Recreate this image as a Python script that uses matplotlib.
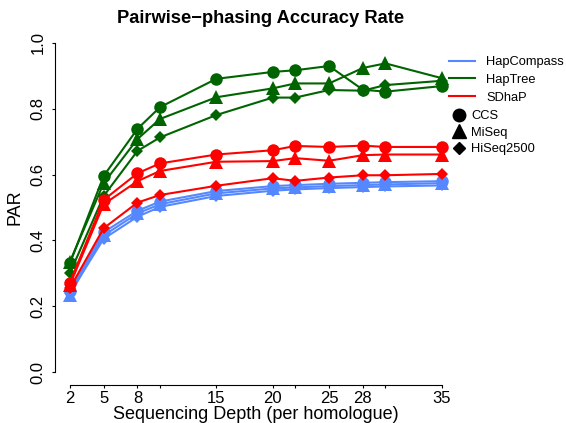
""" pairwise-phasing accuracy rate vs sequencing depth """

import matplotlib
matplotlib.use('Agg')
import matplotlib.pyplot as plt
from matplotlib.lines import Line2D

plt.rcParams['font.family'] = ['Liberation Sans', 'DejaVu Sans']

""" 1. data """
depth = [2, 5, 8, 10, 15, 20, 22, 25, 28, 30, 35]
tick_labels = [2, 5, 8, 15, 20, 25, 28, 35]

# HapCompass
hc_ccs = [0.245, 0.425, 0.490, 0.518, 0.550, 0.565, 0.568, 0.572, 0.575, 0.577, 0.580]
hc_miseq = [0.235, 0.415, 0.482, 0.510, 0.543, 0.558, 0.561, 0.565, 0.568, 0.570, 0.574]
hc_hiseq = [0.240, 0.405, 0.472, 0.502, 0.535, 0.551, 0.555, 0.559, 0.562, 0.564, 0.567]
# HapTree
ht_ccs = [0.330, 0.596, 0.739, 0.805, 0.891, 0.912, 0.917, 0.930, 0.858, 0.852, 0.869]
ht_miseq = [0.335, 0.574, 0.708, 0.769, 0.835, 0.862, 0.877, 0.877, 0.924, 0.938, 0.893]
ht_hiseq = [0.300, 0.535, 0.672, 0.713, 0.781, 0.834, 0.834, 0.857, 0.855, 0.872, 0.885]
# SDhaP
sd_ccs = [0.272, 0.523, 0.604, 0.634, 0.661, 0.674, 0.687, 0.684, 0.688, 0.684, 0.684]
sd_miseq = [0.265, 0.510, 0.580, 0.611, 0.639, 0.641, 0.650, 0.642, 0.659, 0.661, 0.661]
sd_hiseq = [0.255, 0.437, 0.515, 0.538, 0.566, 0.589, 0.581, 0.591, 0.598, 0.598, 0.602]

methods = ['HapCompass', 'HapTree', 'SDhaP']
colors = ['#5588FF', '#006400', '#FF0000']
platforms = ['CCS', 'MiSeq', 'HiSeq2500']
markers = ['o', '^', 'D']
msizes = [9, 9.5, 6.2]

series = [[hc_ccs, hc_miseq, hc_hiseq],
          [ht_ccs, ht_miseq, ht_hiseq],
          [sd_ccs, sd_miseq, sd_hiseq]]

""" 2. plot """
fig = plt.figure(figsize=(5.66, 4.23), dpi=100)
ax = fig.add_axes([55 / 566, 1 - 385.2 / 423, 401.6 / 566, 355.4 / 423])

for col, group in zip(colors, series):
    for vals, mk, ms in zip(group, markers, msizes):
        ax.plot(depth, vals, color=col, marker=mk, markersize=ms, lw=1.5,
                markeredgewidth=0)

ax.set_xlim(2 - 1.32, 35 + 1.32)
ax.set_ylim(-0.04, 1.04)
for s in ['top', 'right']:
    ax.spines[s].set_visible(False)
ax.spines['left'].set_bounds(0, 1)
ax.spines['bottom'].set_bounds(2, 35)
ax.set_xticks(depth)
ax.set_xticklabels([str(d) if d in tick_labels else '' for d in depth])
ax.set_yticks([0, 0.2, 0.4, 0.6, 0.8, 1.0])
ax.set_yticklabels(['0.0', '0.2', '0.4', '0.6', '0.8', '1.0'],
                   rotation=90, va='center')
ax.tick_params(length=2, width=0.8, labelsize=12, pad=2)
ax.tick_params(axis='y', pad=5)

ax.set_xlabel('Sequencing Depth (per homologue)', fontsize=13, labelpad=0)
ax.set_ylabel('PAR', fontsize=13, labelpad=5)
fig.suptitle('Pairwise\u2212phasing Accuracy Rate', fontsize=13.2,
             fontweight='bold', x=261 / 566, y=1 - 10 / 423, va='top')

# legends
h1 = [Line2D([], [], color=c, lw=1.5) for c in colors]
fig.legend(h1, methods, loc='upper left', frameon=False,
           bbox_to_anchor=(449 / 566, 1 - 56 / 423), fontsize=9.3,
           handlelength=2.0, handletextpad=0.9, labelspacing=0.45,
           borderpad=0, borderaxespad=0)
h2 = [Line2D([], [], color='black', ls='none', marker=m, markersize=s)
      for m, s in zip(markers, msizes)]
fig.legend(h2, platforms, loc='upper left', frameon=False,
           bbox_to_anchor=(453 / 566, 1 - 110 / 423), fontsize=9.3,
           handlelength=1.0, handletextpad=0.4, labelspacing=0.35,
           borderpad=0, borderaxespad=0)

fig.savefig('out.png', dpi=100)
